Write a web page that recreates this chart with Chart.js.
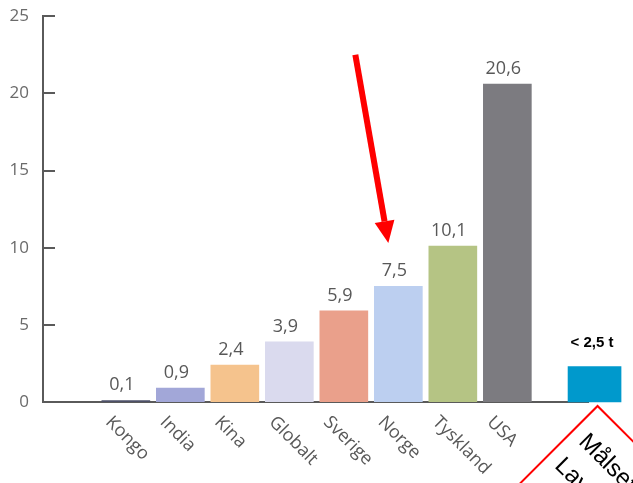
<!DOCTYPE html>
<html>
<head>
<meta charset="utf-8">
<script src="https://cdn.jsdelivr.net/npm/chart.js@4.4.0/dist/chart.umd.min.js"></script>
<style>
  html, body { margin: 0; padding: 0; background: #fff; }
</style>
</head>
<body>
<canvas id="grafica" width="633" height="483"></canvas>
<script>
// datos del grafico (tonn CO2 per innbygger)
var paises = ["Kongo", "India", "Kina", "Globalt", "Sverige", "Norge", "Tyskland", "USA"];
var utslipp = [0.1, 0.9, 2.4, 3.9, 5.9, 7.5, 10.1, 20.6];
var etiquetas = ["0,1", "0,9", "2,4", "3,9", "5,9", "7,5", "10,1", "20,6"];
var colores = ["#4d5068", "#a2a7d8", "#f5c38d", "#dadaee", "#eaa08b", "#bccff0", "#b5c484", "#7c7b80"];
var malVerdi = [2.3];
var malEtiqueta = "< 2,5 t";
var malTekst = ["Målsetning", "Lavutslipps-", "samfunnet"];
var yTicks = [0, 5, 10, 15, 20, 25];

// posicion del bar de la meta en el eje x (despues de USA y un hueco)
var posMal = 9.6;

var $grafica = document.querySelector("#grafica");

var datosPaises = paises.map(function (p, i) { return { x: i + 1, y: utslipp[i] }; });
var datosMal = malVerdi.map(function (v) { return { x: posMal, y: v }; });

// dibuja textos, marcas y flecha
var extras = {
  id: "extras",
  afterDatasetsDraw: function (chart) {
    var ctx = chart.ctx;
    var xs = chart.scales.x;
    var ys = chart.scales.y;
    var area = chart.chartArea;

    // marcas del eje y hacia dentro
    ctx.save();
    ctx.strokeStyle = "#5a5a5a";
    ctx.lineWidth = 2;
    yTicks.forEach(function (t) {
      if (t == 0) return;
      var y = Math.round(ys.getPixelForValue(t));
      ctx.beginPath();
      ctx.moveTo(area.left, y);
      ctx.lineTo(area.left + 12, y);
      ctx.stroke();
    });
    ctx.restore();

    // valores sobre las barras
    ctx.save();
    ctx.fillStyle = "#585858";
    ctx.font = "18px 'Open Sans'";
    ctx.textAlign = "center";
    ctx.textBaseline = "alphabetic";
    for (var i = 0; i < paises.length; i++) {
      var x = xs.getPixelForValue(i + 1);
      var y = ys.getPixelForValue(utslipp[i]);
      ctx.fillText(etiquetas[i], x - 4, y - 10);
    }
    ctx.restore();

    // etiquetas del eje x giradas
    ctx.save();
    ctx.fillStyle = "#585858";
    ctx.font = "18px 'Open Sans'";
    ctx.textAlign = "left";
    ctx.textBaseline = "top";
    for (var i = 0; i < paises.length; i++) {
      var x = xs.getPixelForValue(i + 1);
      ctx.save();
      ctx.translate(x - 11, area.bottom + 11);
      ctx.rotate(Math.PI / 4);
      ctx.fillText(paises[i], 0, 0);
      ctx.restore();
    }
    ctx.restore();

    // etiqueta de la meta
    var mx = xs.getPixelForValue(posMal);
    var my = ys.getPixelForValue(malVerdi[0]);
    ctx.save();
    ctx.fillStyle = "#000";
    ctx.font = "bold 15px 'Liberation Sans'";
    ctx.textAlign = "left";
    ctx.fillText(malEtiqueta, mx - 24, my - 20);
    ctx.restore();

    // rombo rojo con texto
    ctx.save();
    ctx.translate(mx + 3, area.bottom + 4);
    ctx.rotate(Math.PI / 4);
    ctx.fillStyle = "#fff";
    ctx.strokeStyle = "#ff0000";
    ctx.lineWidth = 2;
    ctx.beginPath();
    ctx.rect(0, 0, 200, 200);
    ctx.fill();
    ctx.stroke();
    ctx.fillStyle = "#000";
    ctx.font = "24px 'Liberation Sans'";
    ctx.textAlign = "left";
    ctx.textBaseline = "alphabetic";
    malTekst.forEach(function (t, k) {
      ctx.fillText(t, 12, 40 + k * 34);
    });
    ctx.restore();

    // flecha roja hacia Norge
    var nx = xs.getPixelForValue(paises.indexOf("Norge") + 1);
    var tipX = nx - 10, tipY = ys.getPixelForValue(10.3);
    var startX = nx - 43, startY = ys.getPixelForValue(22.5);
    var dx = tipX - startX, dy = tipY - startY;
    var len = Math.sqrt(dx * dx + dy * dy);
    var ux = dx / len, uy = dy / len;
    var head = 22, half = 10;
    var bx = tipX - ux * head, by = tipY - uy * head;
    ctx.save();
    ctx.strokeStyle = "#ff0000";
    ctx.fillStyle = "#ff0000";
    ctx.lineWidth = 6;
    ctx.beginPath();
    ctx.moveTo(startX, startY);
    ctx.lineTo(bx, by);
    ctx.stroke();
    ctx.beginPath();
    ctx.moveTo(tipX, tipY);
    ctx.lineTo(bx - uy * half, by + ux * half);
    ctx.lineTo(bx + uy * half, by - ux * half);
    ctx.closePath();
    ctx.fill();
    ctx.restore();
  }
};

new Chart($grafica, {
  type: "bar",
  data: {
    datasets: [
      {
        label: "Utslipp",
        data: datosPaises,
        backgroundColor: colores,
        barThickness: 48,
        grouped: false
      },
      {
        label: "Mål",
        data: datosMal,
        backgroundColor: "#0099cc",
        barThickness: 53,
        grouped: false,
        clip: false
      }
    ]
  },
  options: {
    responsive: false,
    animation: false,
    layout: { padding: { top: 14, right: 45, bottom: 73, left: 0 } },
    plugins: {
      legend: { display: false },
      tooltip: { enabled: false }
    },
    scales: {
      x: {
        type: "linear",
        offset: false,
        min: -0.52,
        max: 9.48,
        ticks: { display: false },
        grid: { display: false },
        border: { color: "#5a5a5a", width: 2 }
      },
      y: {
        min: 0,
        max: 25,
        ticks: {
          stepSize: 5,
          color: "#6a6a6a",
          font: { size: 17, family: "'Open Sans'" },
          padding: 6
        },
        grid: { display: false },
        border: { color: "#5a5a5a", width: 2 },
        afterFit: function (s) { s.width = 43; }
      }
    }
  },
  plugins: [extras]
});
</script>
</body>
</html>
